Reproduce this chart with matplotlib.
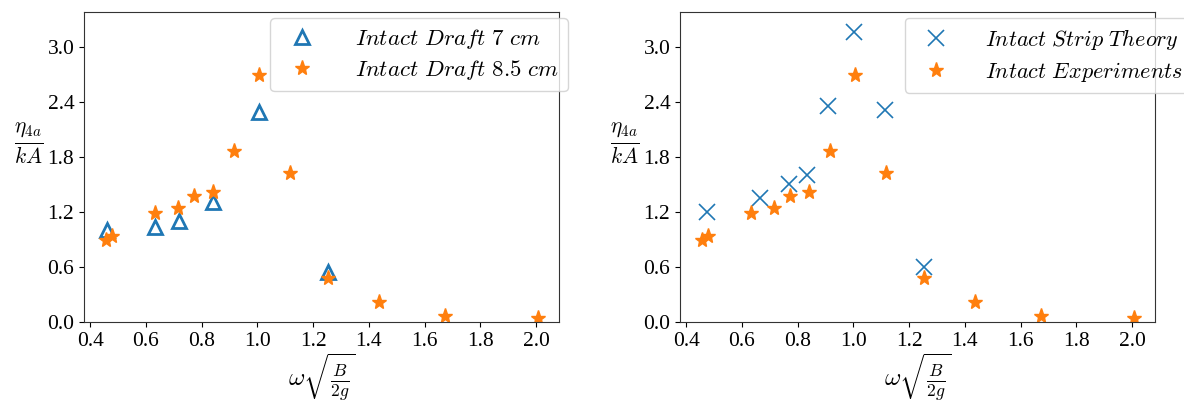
import matplotlib
matplotlib.use("Agg")
import matplotlib.pyplot as plt

plt.rcParams['font.family'] = ['Liberation Serif', 'DejaVu Serif']
plt.rcParams['mathtext.fontset'] = 'cm'

# Draft 7 cm (triangles)
x_d7 = [0.46, 0.633, 0.72, 0.84, 1.005, 1.255]
y_d7 = [1.00, 1.04, 1.10, 1.305, 2.29, 0.55]

# Draft 8.5 cm / experiments (stars)
x_exp = [0.457, 0.48, 0.633, 0.716, 0.774, 0.84, 0.915, 1.006, 1.117, 1.255, 1.437, 1.673, 2.006]
y_exp = [0.89, 0.94, 1.185, 1.24, 1.375, 1.42, 1.865, 2.69, 1.62, 0.48, 0.22, 0.06, 0.04]

# Strip theory (x markers)
x_st = [0.474, 0.664, 0.768, 0.834, 0.91, 1.002, 1.113, 1.255]
y_st = [1.20, 1.35, 1.50, 1.60, 2.35, 3.16, 2.31, 0.60]

yticks = [0.0, 0.6, 1.2, 1.8, 2.4, 3.0]
xticks = [0.4, 0.6, 0.8, 1.0, 1.2, 1.4, 1.6, 1.8, 2.0]

labels_left = [r'$Intact\ Draft\ 7\ cm$', r'$Intact\ Draft\ 8.5\ cm$']
labels_right = [r'$Intact\ Strip\ Theory$', r'$Intact\ Experiments$']

W, H = 1184, 405
fig = plt.figure(figsize=(W / 100, H / 100), dpi=100)
ax1 = fig.add_axes([84 / W, 1 - 322 / H, 475 / W, 310 / H])
ax2 = fig.add_axes([680 / W, 1 - 322 / H, 475 / W, 310 / H])

c0, c1 = '#1f77b4', '#ff7f0e'

ax1.plot(x_d7, y_d7, linestyle='none', marker='^', ms=9.5, mfc='none', mec=c0, mew=2,
         label=labels_left[0])
ax1.plot(x_exp, y_exp, linestyle='none', marker='*', ms=11, color=c1, label=labels_left[1])

ax2.plot(x_st, y_st, linestyle='none', marker='x', ms=11, mew=1.2, color=c0, label=labels_right[0])
ax2.plot(x_exp, y_exp, linestyle='none', marker='*', ms=11, color=c1, label=labels_right[1])

for ax in (ax1, ax2):
    ax.set_ylim(0, 3.38)
    ax.set_xlim(0.378, 2.082)
    ax.set_yticks(yticks)
    ax.set_yticklabels([f'{v:.1f}' for v in yticks])
    ax.set_xticks(xticks)
    ax.set_xticklabels([f'{v:.1f}' for v in xticks])
    ax.tick_params(labelsize=15.5, colors='black')
    for s in ax.spines.values():
        s.set_color('#333333')
    ax.set_xlabel(r'$\omega\sqrt{\frac{B}{2g}}$', fontsize=18, labelpad=0)
    ax.set_ylabel(r'$\frac{\eta_{4a}}{kA}$', fontsize=22, rotation=0, ha='right', va='center')
    ax.yaxis.set_label_coords(-0.086, 0.575)

ax1.legend(loc='upper right', bbox_to_anchor=(568 / W, 1 - 18 / H), bbox_transform=fig.transFigure,
           borderaxespad=0, fontsize=16.5, handletextpad=1.3, labelspacing=0.3)
ax2.legend(loc='upper left', bbox_to_anchor=(905 / W, 1 - 18 / H), bbox_transform=fig.transFigure,
           borderaxespad=0, fontsize=16, handletextpad=1.2, labelspacing=0.35)

fig.savefig('out.png', dpi=100)
